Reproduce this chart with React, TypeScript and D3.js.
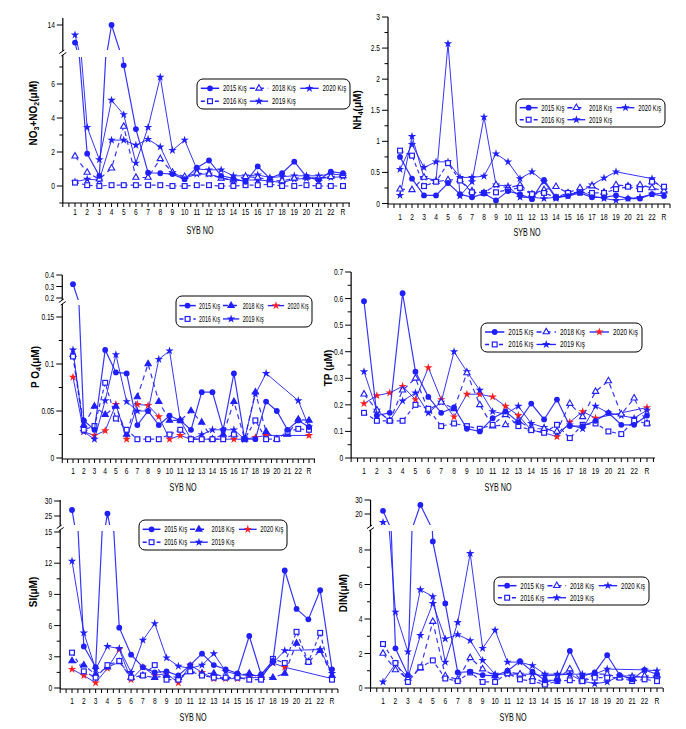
import React from 'react';
import * as d3 from 'd3';

const stations = ['1','2','3','4','5','6','7','8','9','10','11','12','13','14','15','16','17','18','19','20','21','22','R'];
const yearLabels = ['2015 Kış','2016 Kış','2018 Kış','2019 Kış','2020 Kış'];

type S = (number | null)[];

// NO3+NO2
const no3_2015: S = [10.8,1.9,0.6,14,7.1,3.35,0.78,0.75,0.7,0.4,1.08,1.5,0.6,0.45,0.25,1.15,0.45,0.75,1.43,0.55,0.35,0.85,0.75];
const no3_2016: S = [0.2,0.05,0,0.05,0.05,0.05,0.05,0.05,0,0,0.05,0.05,0,0,0.05,0.05,0.1,0,0,0.05,0,0,0];
const no3_2018: S = [1.75,0.8,0.4,1.05,3.5,0.5,0.5,1.6,0.8,0.55,0.75,0.7,0.45,0.35,0.55,0.5,0.35,0.3,0.45,0.5,0.45,0.55,0.6];
const no3_2019: S = [12.2,3.45,1.55,5.05,4.2,1.35,3.45,6.4,2.1,2.7,1.0,0.95,0.95,0.6,0.6,0.65,0.5,0.55,0.6,0.6,0.6,0.7,0.65];
const no3_2020: S = [0.25,0.4,0.35,2.7,2.7,2.4,2.75,2.3,0.8,0.45,0.7,0.7,0.5,0.3,0.35,0.35,0.3,0.2,0.4,0.45,0.45,0.5,0.55];

// NH4
const nh4_2015: S = [0.75,0.4,0.13,0.13,0.33,0.15,0.1,0.16,0.05,0.2,0.15,0.07,0.38,0.1,0.12,0.17,0.1,0.1,0.13,0.08,0.08,0.15,0.12];
const nh4_2016: S = [0.85,0.77,0.28,0.35,0.65,0.37,0.18,0.17,0.18,0.22,0.25,0.15,0.17,0.1,0.17,0.18,0.17,0.17,0.23,0.27,0.23,0.35,0.27];
const nh4_2018: S = [0.23,0.22,0.42,0.35,0.38,0.38,0.2,0.17,0.3,0.25,0.3,0.15,0.22,0.27,0.17,0.25,0.28,0.18,0.3,0.28,0.3,0.25,0.2];
const nh4_2019: S = [0.55,0.95,0.58,0.67,0.67,0.42,0.42,0.44,0.8,0.67,0.4,0.51,0.35,0.08,0.15,0.18,0.3,0.41,0.51,null,null,0.4,0.22];
const nh4_2020: S = [0.13,1.08,0.42,0.37,2.57,0.12,0.35,1.39,0.3,0.28,0.1,0.1,0.08,0.1,0.12,0.2,0.12,0.08,0.05,0.08,0.1,0.15,0.17];

// PO4
const po4_2015: S = [0.32,0.04,0.03,0.115,0.091,0.09,0.035,0.05,0.035,0.045,0.04,0.03,0.07,0.07,0.03,0.09,0.02,0.02,0.06,0.05,0.03,0.04,0.033];
const po4_2016: S = [0.108,0.03,0.034,0.08,0.042,0.03,0.02,0.02,0.02,0.025,0.03,0.02,0.02,0.02,0.02,0.025,0.02,0.04,0.02,0.02,0.028,0.031,0.03];
const po4_2018: S = [0.11,0.035,0.055,0.046,0.055,0.025,0.065,0.1,0.06,0.04,0.04,0.05,0.038,0.02,0.025,0.06,0.02,0.07,0.028,0.02,0.025,0.041,0.04];
const po4_2019: S = [0.115,0.028,0.02,0.061,0.11,0.06,0.05,0.05,0.105,0.114,0.04,0.02,0.025,0.03,0.03,0.03,0.02,0.068,0.09,null,null,0.061,0.033];
const po4_2020: S = [0.086,0.028,0.024,0.029,0.057,0.02,0.057,0.056,0.044,0.02,0.024,0.02,0.02,0.02,0.02,0.02,0.02,0.022,0.024,null,null,null,0.024];

// TP
const tp_2015: S = [0.59,0.16,0.17,0.62,0.325,0.23,0.17,0.19,0.11,0.1,0.15,0.175,0.135,0.205,0.145,0.22,0.12,0.12,0.14,0.17,0.125,0.125,0.16];
const tp_2016: S = [0.17,0.14,0.14,0.14,0.2,0.185,0.12,0.13,0.12,0.11,0.125,0.165,0.12,0.105,0.095,0.125,0.075,0.125,0.13,0.1,0.09,0.14,0.13];
const tp_2018: S = [0.24,0.18,0.14,0.255,0.3,0.18,0.21,0.185,0.32,0.2,0.12,0.125,0.14,0.11,0.11,0.1,0.205,0.155,0.25,0.29,0.165,0.225,0.13];
const tp_2019: S = [0.325,0.18,0.14,0.215,0.245,0.17,0.21,0.4,0.325,0.255,0.175,0.165,0.195,0.13,0.115,0.095,0.125,0.11,0.195,0.17,0.16,0.15,0.18];
const tp_2020: S = [0.205,0.235,0.245,0.27,0.22,0.34,0.22,0.155,0.24,0.24,0.23,0.195,0.16,0.105,0.095,0.08,0.135,0.175,0.15,null,null,null,0.19];

// Si
const si_2015: S = [27,4.0,2.0,25.8,5.8,3.2,2.0,1.5,1.6,1.2,2.2,3.3,2.2,1.8,1.4,5.0,1.3,2.6,11.3,7.6,6.6,9.4,1.8];
const si_2016: S = [3.4,1.6,1.0,2.2,2.6,1.0,1.2,2.2,0.8,0.8,1.6,1.2,1.0,1.0,1.0,0.8,0.8,2.8,2.4,5.4,2.5,5.3,0.8];
const si_2018: S = [2.6,2.2,1.3,2.0,2.5,1.0,1.2,1.0,1.2,1.0,1.6,1.4,1.4,1.0,1.2,1.4,1.0,1.0,1.4,4.3,2.5,3.6,1.2];
const si_2019: S = [12.2,5.3,1.8,4.0,3.8,1.5,4.6,6.2,2.9,2.1,1.9,2.2,3.3,1.6,1.3,1.2,1.2,2.4,3.6,null,null,3.7,1.4];
const si_2020: S = [1.8,1.2,0.5,1.9,3.7,0.8,2.0,1.2,1.4,0.5,2.2,1.5,0.9,0.9,0.9,1.0,1.0,2.4,2.0,null,null,null,0.9];

// DIN
const din_2015: S = [22.3,2.3,0.75,26.5,8.5,4.9,0.9,0.95,0.75,0.7,1.0,1.55,0.95,0.45,0.45,2.15,0.7,0.9,1.9,0.75,0.5,1.05,0.8];
const din_2016: S = [2.55,1.45,0.35,1.2,1.6,0.55,0.4,0.9,0.35,0.35,0.85,0.5,0.4,0.2,0.4,0.45,0.4,0.6,0.6,0.6,0.4,0.5,0.4];
const din_2018: S = [2.0,1.05,0.55,1.15,3.85,0.7,0.5,1.75,1.1,0.7,0.95,0.8,0.6,0.3,0.55,1.1,0.4,0.8,0.8,0.6,0.6,0.7,0.7];
const din_2019: S = [14,4.4,2.1,5.7,5.3,1.5,3.8,7.8,2.3,3.35,1.5,1.5,1.3,0.8,0.8,0.8,0.8,0.8,1.1,null,null,1.05,1.0];
const din_2020: S = [0.35,1.4,0.6,3.05,4.9,2.85,3.1,2.75,1.6,0.8,0.8,0.8,0.8,0.7,0.75,0.8,0.4,0.25,0.35,0.7,0.7,0.6,0.6];

const BLUE = '#1f1fff';
const RED = '#ff1f1f';
const FONT = 'Liberation Sans, Arial, sans-serif';

const lineStyles = [
  { w: 1.2, dash: undefined as string | undefined },
  { w: 1.2, dash: '4 3' },
  { w: 1.2, dash: '5 4' },
  { w: 1.0, dash: undefined },
  { w: 1.0, dash: undefined },
];
const legendPos = [[0, 0], [0, 1], [1, 0], [1, 1], [2, 0]];

function NT(props: { x: number; y: number; sx?: number; anchor?: string; size?: number; weight?: string; children: React.ReactNode; tl?: number }) {
  const { x, y, sx = 0.78, anchor = 'middle', size = 8.5, weight = 'normal', children, tl } = props;
  return (
    <text transform={`translate(${x},${y}) scale(${sx},1)`} textAnchor={anchor as any} fontSize={size}
      fontFamily={FONT} fontWeight={weight} fill="#000" textLength={tl} lengthAdjust={tl ? 'spacingAndGlyphs' : undefined}>
      {children}
    </text>
  );
}

function Marker({ kind, x, y, triFilled, redStar }: { kind: number; x: number; y: number; triFilled: boolean; redStar: boolean }) {
  if (kind === 0) return <circle cx={x} cy={y} r={2.9} fill={BLUE} />;
  if (kind === 1) return <rect x={x - 2.4} y={y - 2.4} width={4.8} height={4.8} fill="#fff" stroke={BLUE} strokeWidth={1.2} />;
  if (kind === 2) {
    const p = d3.symbol(d3.symbolTriangle, 17)() as string;
    return <path d={p} transform={`translate(${x},${y})`} fill={triFilled ? BLUE : '#fff'} stroke={BLUE} strokeWidth={1.1} />;
  }
  const p = d3.symbol(d3.symbolStar, 22)() as string;
  const fill = kind === 4 && redStar ? RED : BLUE;
  return <path d={p} transform={`translate(${x},${y})`} fill={fill} />;
}

interface PanelCfg {
  id: string;
  xStart: number; xEnd: number; axisTop: number; axisY: number; xAxisEnd: number;
  lowerDomain: [number, number]; lowerRange: [number, number]; lowerClip: [number, number];
  upperDomain?: [number, number]; upperRange?: [number, number]; upperClip?: [number, number]; breakY?: number;
  minor: number[]; major: number[]; upperMajor?: number[];
  xLabelY: number; titleX: number; titleY: number;
  yLabel: React.ReactNode; yLabelX: number; yLabelY: number;
  legend: [number, number, number, number];
  data: S[]; triFilled: boolean; redStar: boolean;
}

const fmt = (v: number) => String(+v.toFixed(3));

function Panel({ cfg }: { cfg: PanelCfg }) {
  const x = d3.scalePoint<string>().domain(stations).range([cfg.xStart, cfg.xEnd]);
  const step = x.step();
  const axisX = cfg.xStart - step;
  const yl = d3.scaleLinear().domain(cfg.lowerDomain).range(cfg.lowerRange);
  const yu = cfg.upperDomain ? d3.scaleLinear().domain(cfg.upperDomain).range(cfg.upperRange!) : null;
  const regions: { scale: d3.ScaleLinear<number, number>; clip: [number, number]; id: string }[] = [
    { scale: yl, clip: cfg.lowerClip, id: cfg.id + '-lo' },
  ];
  if (yu) regions.push({ scale: yu, clip: cfg.upperClip!, id: cfg.id + '-up' });

  const xticks: number[] = [];
  for (let k = -2; k <= 46; k++) {
    const xp = cfg.xStart + (k * step) / 2;
    if (xp <= cfg.xAxisEnd + 0.5) xticks.push(xp);
  }

  const order = [4, 3, 2, 1, 0];
  const [lx, ly, lw, lh] = cfg.legend;
  const colText = [0.17, 0.49, 0.82];
  const rowY = [ly + lh * 0.31, ly + lh * 0.74];

  return (
    <g>
      <defs>
        {regions.map((r) => (
          <clipPath id={r.id} key={r.id}>
            <rect x={axisX - 10} y={r.clip[0]} width={cfg.xAxisEnd - axisX + 20} height={r.clip[1] - r.clip[0]} />
          </clipPath>
        ))}
      </defs>
      {regions.map((r) => (
        <g clipPath={`url(#${r.id})`} key={r.id}>
          {order.map((si) => {
            const pts = cfg.data[si]
              .map((v, i) => (v === null ? null : ([x(stations[i])!, r.scale(v)] as [number, number])))
              .filter((p): p is [number, number] => p !== null);
            const line = d3.line<[number, number]>().x((d) => d[0]).y((d) => d[1]);
            return (
              <g key={si}>
                <path d={line(pts) || ''} fill="none" stroke={BLUE} strokeWidth={lineStyles[si].w}
                  strokeDasharray={lineStyles[si].dash} opacity={0.9} />
                {pts.map((p, i) => (
                  <Marker key={i} kind={si} x={p[0]} y={p[1]} triFilled={cfg.triFilled} redStar={cfg.redStar} />
                ))}
              </g>
            );
          })}
        </g>
      ))}
      {/* axes */}
      <line x1={axisX} x2={axisX} y1={cfg.axisTop} y2={cfg.axisY} stroke="#000" strokeWidth={1.2} />
      <line x1={axisX} x2={cfg.xAxisEnd} y1={cfg.axisY} y2={cfg.axisY} stroke="#000" strokeWidth={1.2} />
      {xticks.map((xp, i) => (
        <line key={i} x1={xp} x2={xp} y1={cfg.axisY} y2={cfg.axisY + 4} stroke="#000" strokeWidth={1} />
      ))}
      {stations.map((s) => (
        <NT key={s} x={x(s)!} y={cfg.xLabelY}>{s}</NT>
      ))}
      {cfg.minor.map((v) => (
        <line key={'m' + v} x1={axisX - 3.5} x2={axisX} y1={yl(v)} y2={yl(v)} stroke="#000" strokeWidth={1} />
      ))}
      {cfg.major.map((v) => (
        <g key={'M' + v}>
          <line x1={axisX - 6} x2={axisX} y1={yl(v)} y2={yl(v)} stroke="#000" strokeWidth={1} />
          <NT x={axisX - 8} y={yl(v) + 3} anchor="end">{fmt(v)}</NT>
        </g>
      ))}
      {yu && cfg.upperMajor!.map((v) => (
        <g key={'U' + v}>
          <line x1={axisX - 6} x2={axisX} y1={yu(v)} y2={yu(v)} stroke="#000" strokeWidth={1} />
          <NT x={axisX - 8} y={yu(v) + 3} anchor="end">{fmt(v)}</NT>
        </g>
      ))}
      {cfg.breakY !== undefined && (
        <g>
          <rect x={axisX - 2} y={cfg.breakY - 2} width={4} height={4} fill="#fff" />
          <line x1={axisX - 3.5} x2={axisX + 1.5} y1={cfg.breakY + 0.5} y2={cfg.breakY - 3} stroke="#000" strokeWidth={1} />
          <line x1={axisX - 1.5} x2={axisX + 3.5} y1={cfg.breakY + 3} y2={cfg.breakY - 0.5} stroke="#000" strokeWidth={1} />
        </g>
      )}
      <NT x={cfg.titleX} y={cfg.titleY} size={11} sx={1} tl={27}>SYB NO</NT>
      <text transform={`translate(${cfg.yLabelX},${cfg.yLabelY}) rotate(-90)`} textAnchor="middle"
        fontSize={10} fontWeight="bold" fontFamily={FONT} dy={3.5}>
        {cfg.yLabel}
      </text>
      {/* legend */}
      <rect x={lx} y={ly} width={lw} height={lh} rx={6} ry={6} fill="#fff" stroke="#000" strokeWidth={1} />
      {yearLabels.map((lab, si) => {
        const [c, r] = legendPos[si];
        const tx = lx + colText[c] * lw;
        const yy = rowY[r];
        const x0 = tx - 0.145 * lw;
        const x1 = tx - 0.025 * lw;
        return (
          <g key={lab}>
            <line x1={x0} x2={x1} y1={yy} y2={yy} stroke={BLUE} strokeWidth={lineStyles[si].w + 0.3}
              strokeDasharray={lineStyles[si].dash} />
            <Marker kind={si} x={(x0 + x1) / 2} y={yy} triFilled={cfg.triFilled} redStar={cfg.redStar} />
            <NT x={tx} y={yy + 3} anchor="start" size={9} sx={1} tl={lw * 0.155}>{lab}</NT>
          </g>
        );
      })}
    </g>
  );
}

const sub = (t: string) => <tspan fontSize={7} dy={2.5}>{t}</tspan>;

const panels: PanelCfg[] = [
  {
    id: 'p1', xStart: 75, xEnd: 343, axisTop: 18, axisY: 203, xAxisEnd: 350,
    lowerDomain: [0, 6], lowerRange: [186, 84], lowerClip: [57, 212],
    upperDomain: [12, 14], upperRange: [36, 25], upperClip: [10, 50], breakY: 53,
    minor: [-1, 1, 3, 5, 7], major: [0, 2, 4, 6], upperMajor: [14],
    xLabelY: 215, titleX: 200, titleY: 234,
    yLabel: <>NO{sub('3')}<tspan dy={-2.5}>+NO</tspan>{sub('2')}<tspan dy={-2.5}>(μM)</tspan></>,
    yLabelX: 33, yLabelY: 113, legend: [197, 79, 153, 30],
    data: [no3_2015, no3_2016, no3_2018, no3_2019, no3_2020], triFilled: false, redStar: false,
  },
  {
    id: 'p2', xStart: 400, xEnd: 664, axisTop: 17, axisY: 204, xAxisEnd: 670,
    lowerDomain: [0, 3], lowerRange: [203.5, 17], lowerClip: [8, 212],
    minor: [0.25, 0.75, 1.25, 1.75, 2.25, 2.75], major: [0, 0.5, 1, 1.5, 2, 2.5, 3],
    xLabelY: 220, titleX: 527, titleY: 236,
    yLabel: <>NH{sub('4')}<tspan dy={-2.5}>(μM)</tspan></>,
    yLabelX: 357, yLabelY: 110, legend: [516, 99, 149, 28],
    data: [nh4_2015, nh4_2016, nh4_2018, nh4_2019, nh4_2020], triFilled: false, redStar: false,
  },
  {
    id: 'p3', xStart: 73, xEnd: 309, axisTop: 275, axisY: 459, xAxisEnd: 315,
    lowerDomain: [0, 0.15], lowerRange: [458, 317], lowerClip: [305, 468],
    upperDomain: [0.2, 0.4], upperRange: [298, 275], upperClip: [268, 300], breakY: 302,
    minor: [0.025, 0.075, 0.125], major: [0, 0.05, 0.1, 0.15], upperMajor: [0.2, 0.3, 0.4],
    xLabelY: 474, titleX: 183, titleY: 491,
    yLabel: <>P O{sub('4')}<tspan dy={-2.5}>(μM)</tspan></>,
    yLabelX: 35, yLabelY: 367, legend: [176, 296, 136, 31],
    data: [po4_2015, po4_2016, po4_2018, po4_2019, po4_2020], triFilled: true, redStar: true,
  },
  {
    id: 'p4', xStart: 364, xEnd: 647, axisTop: 272, axisY: 458, xAxisEnd: 655,
    lowerDomain: [0, 0.7], lowerRange: [458, 272], lowerClip: [262, 468],
    minor: [0.05, 0.15, 0.25, 0.35, 0.45, 0.55, 0.65], major: [0, 0.1, 0.2, 0.3, 0.4, 0.5, 0.6, 0.7],
    xLabelY: 474, titleX: 498, titleY: 491,
    yLabel: <>TP (μM)</>,
    yLabelX: 328, yLabelY: 368, legend: [481, 323, 161, 29],
    data: [tp_2015, tp_2016, tp_2018, tp_2019, tp_2020], triFilled: false, redStar: true,
  },
  {
    id: 'p5', xStart: 72, xEnd: 332, axisTop: 500, axisY: 689, xAxisEnd: 338,
    lowerDomain: [0, 15], lowerRange: [688, 532], lowerClip: [531, 698],
    upperDomain: [25, 30], upperRange: [516, 501], upperClip: [496, 525], breakY: 528,
    minor: [1.5, 4.5, 7.5, 10.5, 13.5], major: [0, 3, 6, 9, 12, 15], upperMajor: [25, 30],
    xLabelY: 704, titleX: 193, titleY: 721,
    yLabel: <>SI(μM)</>,
    yLabelX: 33, yLabelY: 592, legend: [139, 520, 148, 30],
    data: [si_2015, si_2016, si_2018, si_2019, si_2020], triFilled: true, redStar: true,
  },
  {
    id: 'p6', xStart: 383, xEnd: 657, axisTop: 500, axisY: 688, xAxisEnd: 663,
    lowerDomain: [0, 8], lowerRange: [688, 550], lowerClip: [531, 698],
    upperDomain: [20, 30], upperRange: [514, 500], upperClip: [496, 525], breakY: 528,
    minor: [1, 3, 5, 7], major: [0, 2, 4, 6, 8], upperMajor: [20, 30],
    xLabelY: 704, titleX: 513, titleY: 721,
    yLabel: <>DIN(μM)</>,
    yLabelX: 343, yLabelY: 593, legend: [494, 577, 155, 28],
    data: [din_2015, din_2016, din_2018, din_2019, din_2020], triFilled: false, redStar: false,
  },
];

export default function App() {
  return (
    <svg width={686} height={729} style={{ position: 'absolute', left: 0, top: 0, background: '#fff' }}>
      <rect x={0} y={0} width={686} height={729} fill="#fff" />
      {panels.map((p) => (
        <Panel key={p.id} cfg={p} />
      ))}
    </svg>
  );
}
